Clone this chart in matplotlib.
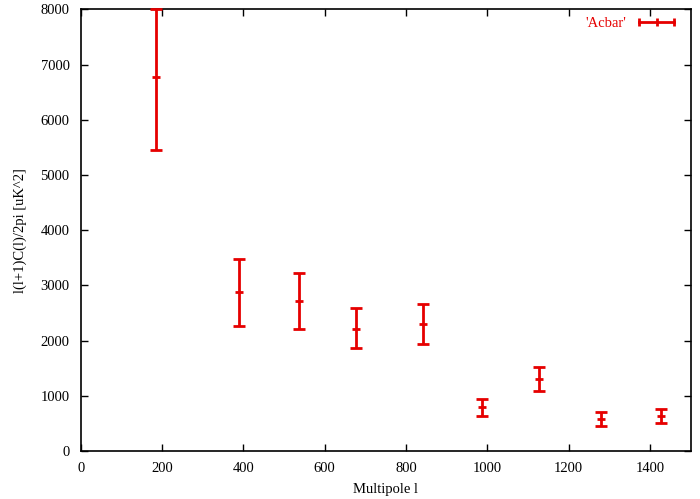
import numpy as np
import matplotlib.pyplot as plt
from matplotlib.lines import Line2D
from matplotlib.legend_handler import HandlerLine2D

# band centres (multipole l) and band powers
ell = [186, 389, 536, 677, 842, 987, 1128, 1280, 1426]
power = [6780, 2879, 2715, 2218, 2304, 798, 1306, 580, 635]
power_low = [5450, 2273, 2213, 1863, 1947, 641, 1088, 454, 503]
power_high = [8000, 3483, 3223, 2588, 2667, 949, 1518, 707, 762]

red = '#e60000'

plt.rcParams['font.family'] = ['Liberation Serif', 'DejaVu Serif']
plt.rcParams['font.size'] = 10.5

fig = plt.figure(figsize=(7.0, 4.99), dpi=100)
ax = fig.add_axes([0.1153, 0.0962, 0.8714, 0.8848])

power = np.array(power)
yerr = [power - np.array(power_low), np.array(power_high) - power]

ax.errorbar(ell, power, yerr=yerr, fmt='none', ecolor=red, elinewidth=2,
	capsize=4, capthick=2, clip_on=False, zorder=3)
ax.plot(ell, power, ls='none', marker='_', ms=6, mew=2, color=red, zorder=4)

ax.set_xlim(0, 1500)
ax.set_ylim(0, 8000)
ax.set_xticks(np.arange(0, 1401, 200))
ax.set_yticks(np.arange(0, 8001, 1000))
ax.tick_params(direction='in', length=5, width=1, top=True, right=True, pad=8)
for s in ax.spines.values():
	s.set_linewidth(1.2)

ax.set_xlabel('Multipole l', labelpad=6)
ax.set_ylabel('l(l+1)C(l)/2pi [uK^2]', labelpad=10)

# gnuplot-style key: label first, then a horizontal errorbar sample
handle = Line2D([], [], color=red, lw=2, marker='|', ms=6, mew=2)
ax.legend([handle], ["'Acbar'"], loc='upper right', frameon=False,
	markerfirst=False, labelcolor=red, handlelength=3.0,
	handler_map={handle: HandlerLine2D(numpoints=3)},
	bbox_to_anchor=(0.992, 1.0), borderaxespad=0.1, handletextpad=0.6)

fig.savefig('out.png', dpi=100)
